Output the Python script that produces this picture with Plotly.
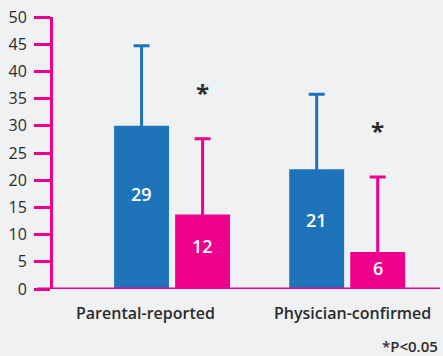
import plotly.graph_objects as go

categories = ["Parental-reported", "Physician-confirmed"]
blue_values = [30.0, 22.0]
blue_upper = [44.7, 35.8]
blue_labels = ["29", "21"]
pink_values = [13.7, 6.8]
pink_upper = [27.6, 20.6]
pink_labels = ["12", "6"]
y_ticks = [0, 5, 10, 15, 20, 25, 30, 35, 40, 45, 50]

BLUE = "#1E73BA"
PINK = "#EC008C"
TXT = "#2B2B2B"
FONT = "Open Sans"

fig = go.Figure()
for vals, upper, col in [(blue_values, blue_upper, BLUE), (pink_values, pink_upper, PINK)]:
    fig.add_trace(go.Bar(
        x=categories, y=vals, marker=dict(color=col, line=dict(width=0)),
        error_y=dict(type="data", symmetric=False,
                     array=[u - v for u, v in zip(upper, vals)],
                     arrayminus=[1.0] * len(vals),
                     color=col, thickness=3, width=8),
        showlegend=False, hoverinfo="skip"))

# value labels inside bars
for i, c in enumerate(categories):
    for vals, labels, off in [(blue_values, blue_labels, -0.5), (pink_values, pink_labels, 0.5)]:
        fig.add_annotation(x=i, y=vals[i] * 0.58, text=labels[i], showarrow=False,
                           xref="x", yref="y", xshift=off * 61,
                           font=dict(family=FONT, size=18, color="white", weight=600))
    # asterisk above pink bars
    fig.add_annotation(x=i, y=pink_upper[i] + 8.5, text="*", showarrow=False,
                       xshift=0.5 * 61, font=dict(family=FONT, size=24, color=TXT, weight=700))

# category labels
cat_shift = [-27, 5]
for i, c in enumerate(categories):
    fig.add_annotation(x=i, y=0, yref="paper", yanchor="top", yshift=-11, xshift=cat_shift[i],
                       text=c, showarrow=False,
                       font=dict(family=FONT, size=16, color=TXT, weight=600))

fig.add_annotation(x=1, xref="paper", xanchor="right", y=0, yref="paper", yanchor="top",
                   yshift=-45, text="*P<0.05", showarrow=False,
                   font=dict(family=FONT, size=15, color=TXT, weight=600))

# baseline
fig.add_shape(type="line", xref="paper", yref="y", x0=-0.041, x1=1.0, y0=0, y1=0,
              line=dict(color=PINK, width=3))

fig.update_layout(
    width=443, height=356,
    margin=dict(l=53, r=3, t=17, b=67),
    paper_bgcolor="#F0F1F3", plot_bgcolor="rgba(0,0,0,0)",
    barmode="group", bargap=0.303, bargroupgap=0.1,
    xaxis=dict(range=[-0.68, 1.53], showticklabels=False, showgrid=False,
               zeroline=False, showline=False, ticks=""),
    yaxis=dict(range=[0, 50], tickvals=y_ticks, showgrid=False, zeroline=False,
               showline=True, linecolor=PINK, linewidth=3,
               ticks="outside", ticklen=16, tickwidth=3, tickcolor=PINK,
               ticklabelstandoff=4,
               tickfont=dict(family=FONT, size=16, color=TXT)),
)

fig.write_html("out.html")
